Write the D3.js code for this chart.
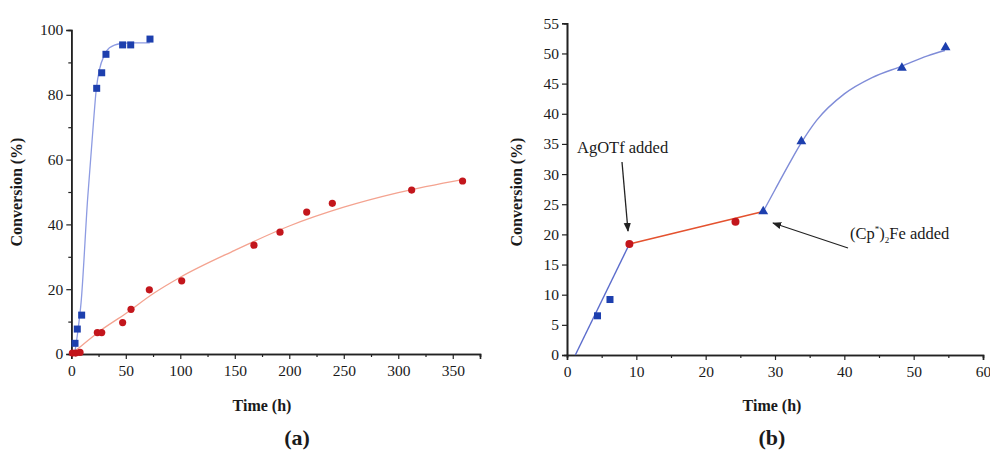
<!DOCTYPE html>
<html>
<head>
<meta charset="utf-8">
<script src="https://cdn.jsdelivr.net/npm/d3@7"></script>
<style>
  body { margin: 0; background: #fff; }
  svg { display: block; }
  text { font-family: "Liberation Serif", "DejaVu Serif", serif; fill: #1a1a1a; }
</style>
</head>
<body>
<svg></svg>
<script>
const width = 990;
const height = 453;

// panel (a): catalyst runs, time (h) vs conversion (%)
const aBlueTime = [3.4, 5.5, 9.5, 23.3, 27.9, 31.8, 47.1, 54.5, 72.2];
const aBlueConv = [3.3, 7.7, 12, 82, 86.8, 92.5, 95.4, 95.4, 97.2];
const aRedTime = [1, 4, 8, 23.9, 27.9, 47.1, 54.8, 71.6, 101.3, 167.6, 191.5, 216, 239.5, 312.3, 359];
const aRedConv = [0.3, 0.3, 0.5, 6.6, 6.6, 9.7, 13.8, 19.8, 22.6, 33.6, 37.6, 43.8, 46.5, 50.6, 53.4];
// fitted curves
const aBlueFitTime = [3, 6, 9, 15, 20, 23, 26, 30, 35, 45, 55, 72];
const aBlueFitConv = [0, 7, 16, 48, 70, 82, 88, 92, 94.5, 95.8, 96, 96];
const aRedFitTime = [0, 10, 25, 50, 75, 100, 150, 200, 250, 300, 360];
const aRedFitConv = [0, 2.7, 6.8, 12.5, 18.6, 23.7, 32, 39.5, 45.3, 49.8, 53.9];

// panel (b)
const bSquareTime = [4.4, 6.2];
const bSquareConv = [6.5, 9.2];
const bCircleTime = [9, 24.3];
const bCircleConv = [18.4, 22.1];
const bTriTime = [28.3, 33.8, 48.3, 54.6];
const bTriConv = [23.8, 35.4, 47.6, 51.0];
const bBlueLineTime = [1.2, 9];
const bBlueLineConv = [0, 18.4];
const bRedLineTime = [9, 28.3];
const bRedLineConv = [18.4, 23.8];
const bBlueFitTime = [28.3, 30, 32, 33.8, 36, 40, 44, 48.3, 52, 54.5];
const bBlueFitConv = [23.8, 27.4, 31.6, 35.2, 38.9, 43.3, 46.0, 47.9, 49.6, 50.5];

const aXTicks = [0, 50, 100, 150, 200, 250, 300, 350];
const aYTicks = [0, 20, 40, 60, 80, 100];
const bXTicks = [0, 10, 20, 30, 40, 50, 60];
const bYTicks = [0, 5, 10, 15, 20, 25, 30, 35, 40, 45, 50, 55];

const blueMark = '#1d3fae';
const redMark = '#c3161c';

const svg = d3.select('svg').attr('width', width).attr('height', height);

const zip = (xs, ys) => xs.map((x, i) => [x, ys[i]]);

function drawAxes(x, y, xTicks, yTicks, xMinor, yMinor) {
  const [x0] = x.range();
  const [y0] = y.range();
  const xAxis = d3.axisBottom(x).tickValues(xTicks).tickSize(5).tickPadding(6).tickFormat(d3.format('d'));
  const xMin = d3.axisBottom(x).tickValues(xMinor).tickSize(3).tickFormat('');
  const yAxis = d3.axisLeft(y).tickValues(yTicks).tickSize(5).tickPadding(3).tickFormat(d3.format('d'));
  const yMin = d3.axisLeft(y).tickValues(yMinor).tickSize(3).tickFormat('');
  [[xAxis, 'x'], [xMin, 'x'], [yAxis, 'y'], [yMin, 'y']].forEach(([ax, k]) => {
    const g = svg.append('g')
        .attr('transform', k === 'x' ? `translate(0,${y0})` : `translate(${x0},0)`)
        .call(ax);
    g.select('.domain').attr('stroke', '#222').attr('stroke-width', 1.6);
    g.selectAll('.tick line').attr('stroke', '#222').attr('stroke-width', 1.2);
    g.selectAll('.tick text').style('font-size', '15.5px').attr('fill', '#1a1a1a')
        .style('font-family', '"Liberation Serif", serif');
  });
}

function squares(x, y, data, s) {
  svg.append('g').selectAll('rect').data(data).enter().append('rect')
      .attr('x', d => x(d[0]) - s / 2).attr('y', d => y(d[1]) - s / 2)
      .attr('width', s).attr('height', s).attr('fill', blueMark);
}
function circles(x, y, data, r) {
  svg.append('g').selectAll('circle').data(data).enter().append('circle')
      .attr('cx', d => x(d[0])).attr('cy', d => y(d[1])).attr('r', r).attr('fill', redMark);
}
function curve(x, y, data, color, w, c) {
  svg.append('path').datum(data)
      .attr('d', d3.line().x(d => x(d[0])).y(d => y(d[1])).curve(c || d3.curveMonotoneX))
      .attr('fill', 'none').attr('stroke', color).attr('stroke-width', w);
}

// ---- panel (a)
const xa = d3.scaleLinear().domain([0, 375]).range([71.3, 480]);
const ya = d3.scaleLinear().domain([0, 100]).range([354, 30]);
drawAxes(xa, ya, aXTicks, aYTicks, d3.range(25, 376, 50), d3.range(10, 100, 20));
curve(xa, ya, zip(aRedFitTime, aRedFitConv), '#f4a390', 1.3);
curve(xa, ya, zip(aBlueFitTime, aBlueFitConv), '#8d9be2', 1.3);
circles(xa, ya, zip(aRedTime, aRedConv), 3.6);
squares(xa, ya, zip(aBlueTime, aBlueConv), 7);

// ---- panel (b)
const xb = d3.scaleLinear().domain([0, 60]).range([567, 983]);
const yb = d3.scaleLinear().domain([0, 55]).range([355, 23.3]);
drawAxes(xb, yb, bXTicks, bYTicks, d3.range(5, 60, 10), []);
curve(xb, yb, zip(bBlueLineTime, bBlueLineConv), '#5b6ccc', 1.4, d3.curveLinear);
curve(xb, yb, zip(bRedLineTime, bRedLineConv), '#e4522f', 1.6, d3.curveLinear);
curve(xb, yb, zip(bBlueFitTime, bBlueFitConv), '#7f8cd8', 1.4);
squares(xb, yb, zip(bSquareTime, bSquareConv), 7);
circles(xb, yb, zip(bCircleTime, bCircleConv), 4);
svg.append('g').selectAll('path').data(zip(bTriTime, bTriConv)).enter().append('path')
    .attr('d', d3.symbol(d3.symbolTriangle, 42))
    .attr('transform', d => `translate(${xb(d[0])},${yb(d[1])})`)
    .attr('fill', blueMark);

// annotations
svg.append('defs').append('marker')
    .attr('id', 'arr').attr('viewBox', '0 0 10 10').attr('refX', 9).attr('refY', 5)
    .attr('markerWidth', 7).attr('markerHeight', 7).attr('orient', 'auto')
  .append('path').attr('d', 'M0,1 L10,5 L0,9 Z').attr('fill', '#222');

svg.append('text').attr('x', 577).attr('y', 153).style('font-size', '16.5px').text('AgOTf added');
svg.append('line').attr('x1', 622).attr('y1', 162).attr('x2', 628).attr('y2', 231)
    .attr('stroke', '#222').attr('stroke-width', 1.3).attr('marker-end', 'url(#arr)');

const cp = svg.append('text').attr('x', 850).attr('y', 239).style('font-size', '16.5px');
cp.append('tspan').text('(Cp');
cp.append('tspan').attr('dy', -7).style('font-size', '9px').text('*');
cp.append('tspan').attr('dy', 7).text(')');
cp.append('tspan').attr('dy', 4).style('font-size', '9px').text('2');
cp.append('tspan').attr('dy', -4).text('Fe added');
svg.append('line').attr('x1', 848).attr('y1', 248).attr('x2', 773).attr('y2', 223)
    .attr('stroke', '#222').attr('stroke-width', 1.3).attr('marker-end', 'url(#arr)');

// axis titles and panel labels
[22, 522].forEach(xx => {
  svg.append('text').attr('transform', `translate(${xx},${192}) rotate(-90)`)
      .attr('text-anchor', 'middle').style('font-size', '16px').style('font-weight', 'bold')
      .text('Conversion (%)');
});
svg.append('text').attr('x', 262).attr('y', 411).attr('text-anchor', 'middle')
    .style('font-size', '16px').style('font-weight', 'bold').text('Time (h)');
svg.append('text').attr('x', 772).attr('y', 411).attr('text-anchor', 'middle')
    .style('font-size', '16px').style('font-weight', 'bold').text('Time (h)');
svg.append('text').attr('x', 297).attr('y', 445).attr('text-anchor', 'middle')
    .style('font-size', '22px').style('font-weight', 'bold').text('(a)');
svg.append('text').attr('x', 772).attr('y', 445).attr('text-anchor', 'middle')
    .style('font-size', '22px').style('font-weight', 'bold').text('(b)');
</script>
</body>
</html>
